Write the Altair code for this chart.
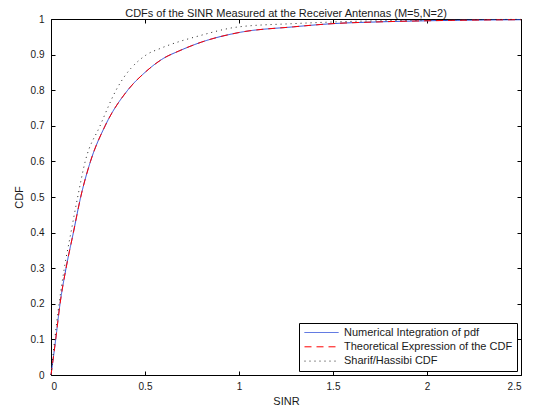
import altair as alt
import pandas as pd

# ---- data ----
series_names = [
    "Numerical Integration of pdf",
    "Theoretical Expression of the CDF",
    "Sharif/Hassibi CDF",
]
series_colors = ["#2e4fd8", "#ff0000", "#222222"]
series_dashes = [[1, 0], [7, 5], [1, 4]]

sinr_numerical = [0, 0.025, 0.048, 0.08, 0.119, 0.158, 0.21, 0.288, 0.408, 0.5, 0.6,
                  0.68, 0.8, 1.0, 1.29, 1.5, 1.75, 2.0, 2.25, 2.5]
cdf_numerical = [0, 0.1, 0.2, 0.3, 0.4, 0.5, 0.6, 0.7, 0.8, 0.85, 0.89,
                 0.91, 0.935, 0.962, 0.978, 0.987, 0.992, 0.995, 0.997, 0.998]

sinr_theoretical = [0, 0.025, 0.048, 0.08, 0.119, 0.158, 0.21, 0.288, 0.408, 0.5, 0.6,
                    0.68, 0.8, 1.0, 1.29, 1.5, 1.75, 2.0, 2.25, 2.5]
cdf_theoretical = [0, 0.1, 0.2, 0.3, 0.4, 0.5, 0.6, 0.7, 0.8, 0.85, 0.89,
                   0.91, 0.935, 0.962, 0.978, 0.987, 0.992, 0.995, 0.997, 0.998]

sinr_sharif = [0, 0.02, 0.043, 0.071, 0.106, 0.142, 0.182, 0.261, 0.346, 0.509, 0.58,
               0.79, 1.0, 1.29, 1.52, 2.0, 2.5]
cdf_sharif = [0, 0.1, 0.2, 0.3, 0.4, 0.5, 0.6, 0.7, 0.8, 0.9, 0.917,
              0.953, 0.978, 0.987, 0.992, 0.997, 0.999]

x_ticks = [0, 0.5, 1, 1.5, 2, 2.5]
y_ticks = [0, 0.1, 0.2, 0.3, 0.4, 0.5, 0.6, 0.7, 0.8, 0.9, 1]

title_text = ["CDFs of the SINR Measured at the Receiver Antennas (M=5,N=2)"]

rows = []
for name, xs_, ys_ in zip(series_names,
                          [sinr_numerical, sinr_theoretical, sinr_sharif],
                          [cdf_numerical, cdf_theoretical, cdf_sharif]):
    for a, b in zip(xs_, ys_):
        rows.append({"series": name, "sinr": a, "cdf": b})
df = pd.DataFrame(rows)
title_df = pd.DataFrame({"t": title_text})

W, H = 470, 356
FONT = "Liberation Sans"
TXT = "#1a1a1a"

x_scale = alt.Scale(domain=[0, 2.5], nice=False, zero=False)
y_scale = alt.Scale(domain=[0, 1], nice=False)

legend = alt.Legend(
    title=None, orient="bottom-right", offset=4, padding=4,
    strokeColor="black", fillColor="white", cornerRadius=0,
    symbolType="stroke", symbolSize=1156, symbolStrokeWidth=1,
    symbolOffset=1, labelOffset=5, labelFontSize=11, labelFont=FONT,
    labelColor=TXT, labelLimit=400, rowPadding=2.3, clipHeight=11,
)

lines = alt.Chart(df).mark_line(strokeWidth=1, interpolate="monotone").encode(
    x=alt.X("sinr:Q", scale=x_scale,
            axis=alt.Axis(orient="bottom", values=x_ticks, format="~g", title="SINR",
                          ticks=False, tickSize=0, domain=False, grid=False,
                          labelPadding=6, titlePadding=4, labelFontSize=10,
                          titleFontSize=11, titleFontWeight="normal",
                          labelFont=FONT, titleFont=FONT, labelColor=TXT, titleColor=TXT)),
    y=alt.Y("cdf:Q", scale=y_scale,
            axis=alt.Axis(orient="left", values=y_ticks, format="~g", title="CDF",
                          ticks=False, tickSize=0, domain=False, grid=False,
                          labelPadding=7, titlePadding=6, labelFontSize=10,
                          titleFontSize=11, titleFontWeight="normal",
                          labelFont=FONT, titleFont=FONT, labelColor=TXT, titleColor=TXT)),
    color=alt.Color("series:N", scale=alt.Scale(domain=series_names, range=series_colors),
                    legend=legend),
    strokeDash=alt.StrokeDash("series:N",
                              scale=alt.Scale(domain=series_names, range=series_dashes),
                              legend=legend),
)

# inward ticks on the bottom and left edges
ticks_bl = alt.Chart(df).mark_line(opacity=0).encode(
    x=alt.X("sinr:Q", scale=x_scale,
            axis=alt.Axis(orient="top", offset=-H, values=x_ticks, labels=False,
                          ticks=True, tickSize=4, tickColor="black", domain=False,
                          grid=False, title=None)),
    y=alt.Y("cdf:Q", scale=y_scale,
            axis=alt.Axis(orient="right", offset=-W, values=y_ticks, labels=False,
                          ticks=True, tickSize=4, tickColor="black", domain=False,
                          grid=False, title=None)),
    detail="series:N",
)

# inward ticks on the top and right edges
ticks_tr = alt.Chart(df).mark_line(opacity=0).encode(
    x=alt.X("sinr:Q", scale=x_scale,
            axis=alt.Axis(orient="bottom", offset=-H, values=x_ticks, labels=False,
                          ticks=True, tickSize=4, tickColor="black", domain=False,
                          grid=False, title=None)),
    y=alt.Y("cdf:Q", scale=y_scale,
            axis=alt.Axis(orient="left", offset=-W, values=y_ticks, labels=False,
                          ticks=True, tickSize=4, tickColor="black", domain=False,
                          grid=False, title=None)),
    detail="series:N",
)

title_mark = alt.Chart(title_df).mark_text(
    font=FONT, fontSize=11, color=TXT, align="center", baseline="alphabetic"
).encode(text="t:N", x=alt.value(W / 2), y=alt.value(-2.5))

chart = alt.layer(lines, ticks_bl, ticks_tr, title_mark).resolve_axis(
    x="independent", y="independent"
).properties(
    width=W, height=H,
    autosize=alt.AutoSizeParams(type="none"),
    padding={"left": 43, "top": 11, "right": 10, "bottom": 30},
).configure_view(stroke="black", strokeWidth=1)

chart.save("out.html", embed_options={"renderer": "svg", "actions": False})
